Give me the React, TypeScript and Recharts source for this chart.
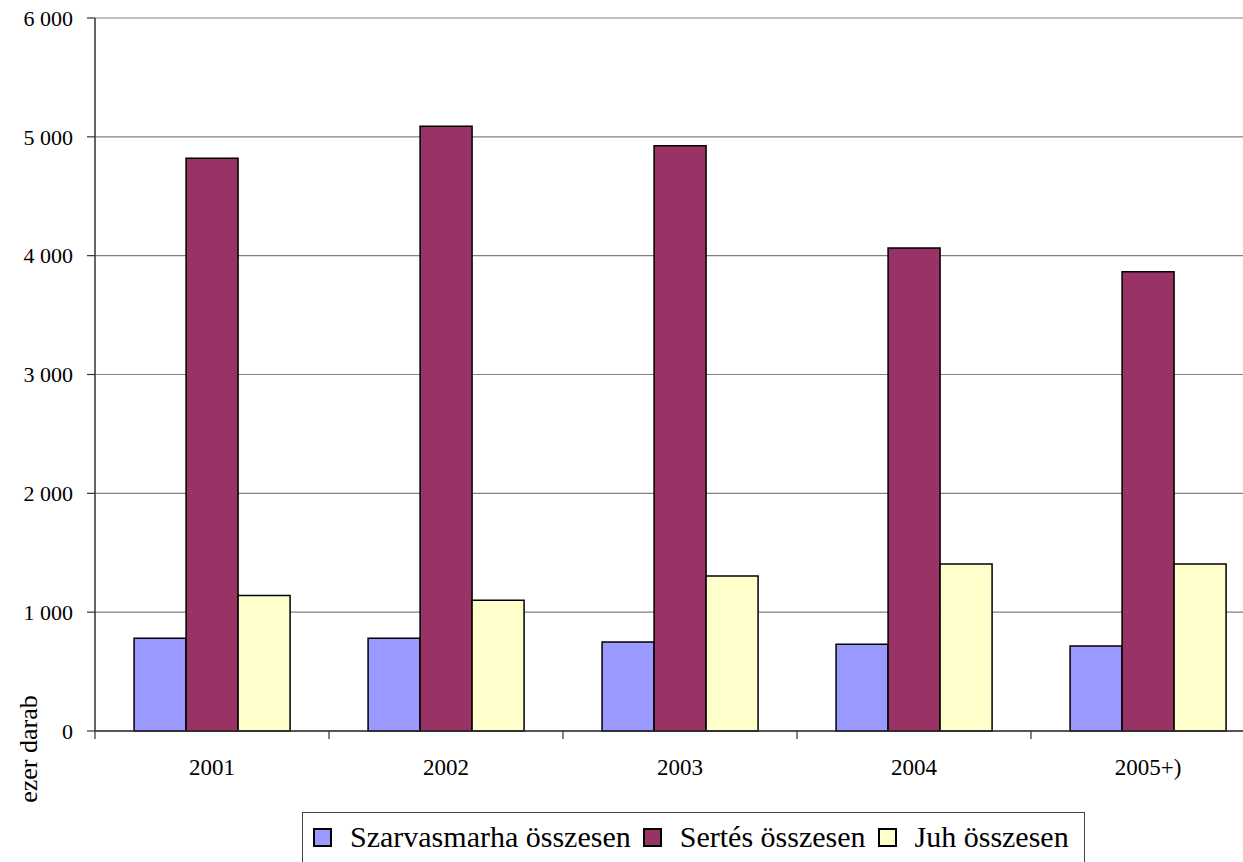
import React from 'react';
import { BarChart, Bar, XAxis, YAxis, CartesianGrid } from 'recharts';

const categories = ['2001', '2002', '2003', '2004', '2005+)'];
const szarvasmarha = [780, 780, 750, 730, 715];
const sertes = [4820, 5090, 4925, 4065, 3865];
const juh = [1140, 1100, 1305, 1405, 1405];
const yTicks = [0, 1000, 2000, 3000, 4000, 5000, 6000];

const series = [
  { key: 'szarvasmarha', name: 'Szarvasmarha összesen', color: '#9999FF' },
  { key: 'sertes', name: 'Sertés összesen', color: '#993366' },
  { key: 'juh', name: 'Juh összesen', color: '#FFFFCC' },
];

const data = categories.map((c, i) => ({
  cat: c,
  szarvasmarha: szarvasmarha[i],
  sertes: sertes[i],
  juh: juh[i],
}));

const FONT = "'Liberation Serif', 'DejaVu Serif', 'Noto Serif', serif";
const X_TICK_MARGIN = 20;
const TICK_SIZE = 8;

const fmt = (v: number) => (v === 0 ? '0' : `${v / 1000} 000`);

const XTick = (props: any) => {
  const { x, y, payload, index } = props;
  const off = payload && payload.offset != null ? payload.offset : 117;
  const y0 = y - X_TICK_MARGIN - TICK_SIZE;
  return (
    <g>
      {index === 0 && (
        <line x1={x - off} x2={x - off} y1={y0} y2={y0 + TICK_SIZE} stroke="#333" strokeWidth={1.2} />
      )}
      <line x1={x + off} x2={x + off} y1={y0} y2={y0 + TICK_SIZE} stroke="#333" strokeWidth={1.2} />
      <text x={x} y={y} dy="0.71em" textAnchor="middle" style={{ fontFamily: FONT }} fontSize={23} fill="#000">
        {payload.value}
      </text>
    </g>
  );
};

const YLabel = (props: any) => {
  const vb = props.viewBox || { x: 0, y: 18, width: 95, height: 713 };
  const cx = vb.x + 28;
  const cy = vb.y + vb.height + 18;
  return (
    <text
      x={cx}
      y={cy}
      transform={`rotate(-90, ${cx}, ${cy})`}
      textAnchor="middle"
      dominantBaseline="central"
      style={{ fontFamily: FONT }}
      fontSize={26}
      fill="#000"
    >
      ezer darab
    </text>
  );
};

export default function App() {
  return (
    <div
      style={{
        position: 'fixed',
        left: 0,
        top: 0,
        width: 1243,
        height: 862,
        overflow: 'hidden',
        background: '#fff',
        fontFamily: FONT,
      }}
    >
      <BarChart
        width={1265}
        height={862}
        data={data}
        margin={{ top: 18, right: 0, left: 0, bottom: 71 }}
        barCategoryGap="16.7%"
        barGap={0}
        style={{ fontFamily: FONT }}
      >
        <CartesianGrid vertical={false} stroke="#808080" strokeWidth={1.2} />
        <XAxis
          dataKey="cat"
          height={60}
          tickLine={false}
          axisLine={{ stroke: '#333', strokeWidth: 1.5 }}
          tickSize={TICK_SIZE}
          tickMargin={X_TICK_MARGIN}
          tick={<XTick />}
          interval={0}
        />
        <YAxis
          width={95}
          domain={[0, 6000]}
          ticks={yTicks}
          tickFormatter={fmt}
          tickSize={TICK_SIZE}
          tickMargin={14}
          axisLine={{ stroke: '#333', strokeWidth: 1.5 }}
          tickLine={{ stroke: '#333', strokeWidth: 1.2 }}
          tick={{ style: { fontFamily: FONT }, fontSize: 22, fill: '#000' }}
          label={<YLabel />}
        />
        {series.map((s) => (
          <Bar
            key={s.key}
            dataKey={s.key}
            name={s.name}
            fill={s.color}
            stroke="#000"
            strokeWidth={1.5}
            isAnimationActive={false}
          />
        ))}
      </BarChart>
      <div
        style={{
          position: 'absolute',
          left: 302,
          top: 812,
          width: 783,
          height: 70,
          border: '1px solid #444',
          boxSizing: 'border-box',
          paddingTop: 7,
          paddingLeft: 10,
          display: 'flex',
          alignItems: 'flex-start',
          fontFamily: FONT,
          fontSize: 30,
          lineHeight: '34px',
          color: '#000',
          whiteSpace: 'nowrap',
        }}
      >
        {series.map((s) => (
          <div key={s.key} style={{ display: 'flex', alignItems: 'flex-start', marginRight: 12 }}>
            <span
              style={{
                display: 'inline-block',
                width: 19,
                height: 19,
                marginTop: 8,
                background: s.color,
                border: '2px solid #000',
                boxSizing: 'border-box',
                marginRight: 18,
              }}
            />
            <span>{s.name}</span>
          </div>
        ))}
      </div>
    </div>
  );
}
